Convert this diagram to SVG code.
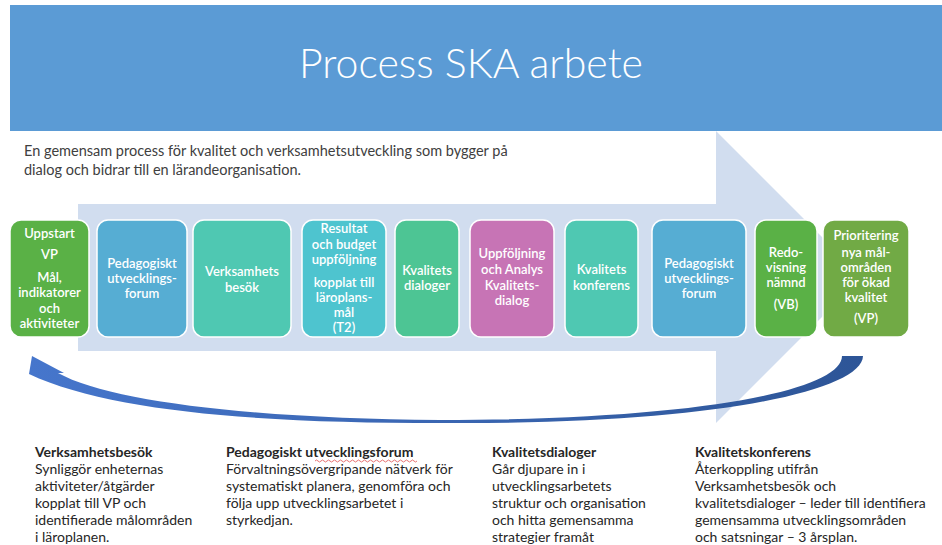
<svg xmlns="http://www.w3.org/2000/svg" width="942" height="545" viewBox="0 0 942 545">
  <style>
    .box { stroke: #ffffff; stroke-width: 1.5; }
    .bt { font-family: Lato, "Liberation Sans", sans-serif; font-size: 13px; font-weight: 600; fill: #ffffff; text-anchor: middle; }
    .desc { font-family: Lato, "Liberation Sans", sans-serif; font-size: 14.5px; fill: #404040; }
    .col { font-family: Lato, "Liberation Sans", sans-serif; font-size: 14px; fill: #262626; }
    .colh { font-weight: bold; }
  </style>
  <defs>
    <linearGradient id="loopGrad" x1="0" y1="0" x2="1" y2="0">
      <stop offset="0" stop-color="#4676CC"/>
      <stop offset="1" stop-color="#2D5597"/>
    </linearGradient>
  </defs>
  <rect x="0" y="0" width="942" height="545" fill="#ffffff"/>

  <!-- background process arrow -->
  <polygon id="process-arrow" points="78,204 716,204 716,131 862,277 716,423 716,351 78,351" fill="#D1DDEF"/>

  <!-- title banner -->
  <g id="title">
    <rect x="10" y="5" width="932" height="126" fill="#5B9BD5"/>
    <text x="471" y="78" font-family="Lato, 'Liberation Sans', sans-serif" font-weight="300" font-size="41" fill="#ffffff" text-anchor="middle">Process SKA arbete</text>
  </g>

  <g id="intro">
    <text class="desc" x="24" y="156">En gemensam process för kvalitet och verksamhetsutveckling som bygger på</text>
    <text class="desc" x="24" y="175">dialog och bidrar till en lärandeorganisation.</text>
  </g>

  <g id="n1">
    <rect class="box" x="10" y="220" width="79" height="117" rx="11" fill="#5AB146"/>
    <text class="bt" x="49.5" y="238">Uppstart</text>
    <text class="bt" x="49.5" y="259">VP</text>
    <text class="bt" x="49.5" y="282">Mål,</text>
    <text class="bt" x="49.5" y="297">indikatorer</text>
    <text class="bt" x="49.5" y="313">och</text>
    <text class="bt" x="49.5" y="328">aktiviteter</text>
  </g>
  <g id="n2">
    <rect class="box" x="97" y="220" width="90" height="117" rx="11" fill="#56ADD3"/>
    <text class="bt" x="142" y="268">Pedagogiskt</text>
    <text class="bt" x="142" y="283">utvecklings-</text>
    <text class="bt" x="142" y="298">forum</text>
  </g>
  <g id="n3">
    <rect class="box" x="193" y="220" width="98" height="117" rx="11" fill="#4FC8B2"/>
    <text class="bt" x="242" y="276">Verksamhets</text>
    <text class="bt" x="242" y="292">besök</text>
  </g>
  <g id="n4">
    <rect class="box" x="302" y="220" width="84" height="117" rx="11" fill="#4EC4CF"/>
    <text class="bt" x="344" y="233">Resultat</text>
    <text class="bt" x="344" y="249">och budget</text>
    <text class="bt" x="344" y="264">uppföljning</text>
    <text class="bt" x="344" y="287">kopplat till</text>
    <text class="bt" x="344" y="302">läroplans-</text>
    <text class="bt" x="344" y="317">mål</text>
    <text class="bt" x="344" y="332">(T2)</text>
  </g>
  <g id="n5">
    <rect class="box" x="395" y="220" width="64" height="117" rx="11" fill="#4DC594"/>
    <text class="bt" x="427" y="275">Kvalitets</text>
    <text class="bt" x="427" y="290">dialoger</text>
  </g>
  <g id="n6">
    <rect class="box" x="470" y="220" width="84" height="117" rx="11" fill="#C774B5"/>
    <text class="bt" x="512" y="258">Uppföljning</text>
    <text class="bt" x="512" y="274">och Analys</text>
    <text class="bt" x="512" y="290">Kvalitets-</text>
    <text class="bt" x="512" y="305">dialog</text>
  </g>
  <g id="n7">
    <rect class="box" x="565" y="220" width="73" height="117" rx="11" fill="#4FC8B2"/>
    <text class="bt" x="601.5" y="274">Kvalitets</text>
    <text class="bt" x="601.5" y="290">konferens</text>
  </g>
  <g id="n8">
    <rect class="box" x="652" y="220" width="94" height="117" rx="11" fill="#56ADD3"/>
    <text class="bt" x="699" y="268">Pedagogiskt</text>
    <text class="bt" x="699" y="283">utvecklings-</text>
    <text class="bt" x="699" y="298">forum</text>
  </g>
  <g id="n9">
    <rect class="box" x="755" y="220" width="62" height="117" rx="11" fill="#5AB146"/>
    <text class="bt" x="786" y="257">Redo-</text>
    <text class="bt" x="786" y="272">visning</text>
    <text class="bt" x="786" y="287">nämnd</text>
    <text class="bt" x="786" y="309">(VB)</text>
  </g>
  <g id="n10">
    <rect class="box" x="823" y="220" width="86" height="117" rx="11" fill="#71AA45"/>
    <text class="bt" x="866" y="240">Prioritering</text>
    <text class="bt" x="866" y="257">nya mål-</text>
    <text class="bt" x="866" y="272">områden</text>
    <text class="bt" x="866" y="287">för ökad</text>
    <text class="bt" x="866" y="302">kvalitet</text>
    <text class="bt" x="866" y="323">(VP)</text>
  </g>

  <g id="connectors">
    <path id="loop-arrow" fill="url(#loopGrad)" d="M 863,356 C 862,392 705,425 440,423 C 260,423 110,412 29,374 L 32,356 L 64,373 L 58,373 C 110,402 260,419 440,420 C 700,420 842,390 842,356 Z"/>
  </g>

  <g id="c1">
    <text class="col colh" x="35" y="457">Verksamhetsbesök</text>
    <text class="col" x="35" y="474">Synliggör enheternas</text>
    <text class="col" x="35" y="491">aktiviteter/åtgärder</text>
    <text class="col" x="35" y="508">kopplat till VP och</text>
    <text class="col" x="35" y="525">identifierade målområden</text>
    <text class="col" x="35" y="542">i läroplanen.</text>
  </g>
  <g id="c2">
    <text class="col colh" x="226" y="457">Pedagogiskt utvecklingsforum</text>
    <path d="M 315,461 q 1.5,-2 3,0 t 3,0 t 3,0 t 3,0 t 3,0 t 3,0 t 3,0 t 3,0 t 3,0 t 3,0 t 3,0 t 3,0 t 3,0 t 3,0 t 3,0 t 3,0 t 3,0 t 3,0 t 3,0 t 3,0 t 3,0 t 3,0 t 3,0 t 3,0 t 3,0 t 3,0 t 3,0 t 3,0 t 3,0 t 3,0 t 3,0 t 3,0 t 3,0 t 3,0" fill="none" stroke="#E05050" stroke-width="0.8"/>
    <text class="col" x="226" y="474">Förvaltningsövergripande nätverk för</text>
    <text class="col" x="226" y="491">systematiskt planera, genomföra och</text>
    <text class="col" x="226" y="508">följa upp utvecklingsarbetet i</text>
    <text class="col" x="226" y="525">styrkedjan.</text>
  </g>
  <g id="c3">
    <text class="col colh" x="492" y="457">Kvalitetsdialoger</text>
    <text class="col" x="492" y="474">Går djupare in i</text>
    <text class="col" x="492" y="491">utvecklingsarbetets</text>
    <text class="col" x="492" y="508">struktur och organisation</text>
    <text class="col" x="492" y="525">och hitta gemensamma</text>
    <text class="col" x="492" y="542">strategier framåt</text>
  </g>
  <g id="c4">
    <text class="col colh" x="695" y="457">Kvalitetskonferens</text>
    <text class="col" x="695" y="474">Återkoppling utifrån</text>
    <text class="col" x="695" y="491">Verksamhetsbesök och</text>
    <text class="col" x="695" y="508">kvalitetsdialoger – leder till identifiera</text>
    <text class="col" x="695" y="525">gemensamma utvecklingsområden</text>
    <text class="col" x="695" y="542">och satsningar – 3 årsplan.</text>
  </g>
</svg>
